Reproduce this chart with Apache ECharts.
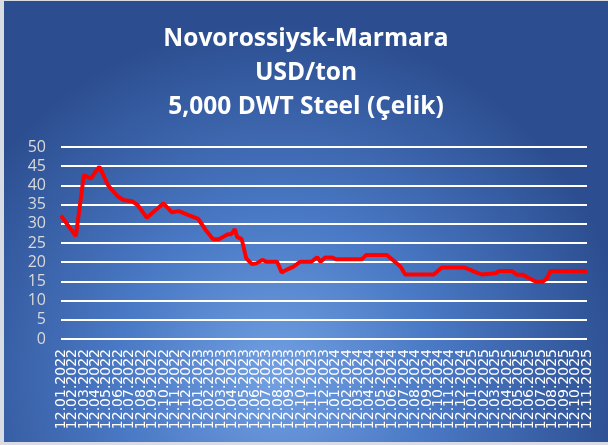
<!DOCTYPE html>
<html>
<head>
<meta charset="utf-8">
<script src="https://cdn.jsdelivr.net/npm/echarts@6/dist/echarts.min.js"></script>
<style>
  html, body { margin: 0; padding: 0; background: #d9dde3; }
  #chart { position: absolute; left: 4px; top: 1px; width: 604px; height: 441px; }
</style>
</head>
<body>
<div id="chart"></div>
<script>
// month labels (x axis ticks)
const monthLabels = [
    '12.01.2022', '12.02.2022', '12.03.2022', '12.04.2022', '12.05.2022', '12.06.2022',
    '12.07.2022', '12.08.2022', '12.09.2022', '12.10.2022', '12.11.2022', '12.12.2022',
    '12.01.2023', '12.02.2023', '12.03.2023', '12.04.2023', '12.05.2023', '12.06.2023',
    '12.07.2023', '12.08.2023', '12.09.2023', '12.10.2023', '12.11.2023', '12.12.2023',
    '12.01.2024', '12.02.2024', '12.03.2024', '12.04.2024', '12.05.2024', '12.06.2024',
    '12.07.2024', '12.08.2024', '12.09.2024', '12.10.2024', '12.11.2024', '12.12.2024',
    '12.01.2025', '12.02.2025', '12.03.2025', '12.04.2025', '12.05.2025', '12.06.2025',
    '12.07.2025', '12.08.2025', '12.09.2025', '12.10.2025', '12.11.2025'
];

// position of each observation, in months since 12.01.2022
const monthPos = [
    0, 1.3, 2.0, 2.6, 3.35, 4.1, 4.9, 5.45, 6.2, 6.7, 7.5, 8.95, 9.7, 10.3, 11.1, 12.0,
    12.6, 13.3, 13.8, 14.6, 14.9, 15.2, 15.4, 15.8, 16.2, 16.7, 17.1, 17.6, 18.0, 18.9,
    19.3, 19.7, 20.3, 20.9, 21.9, 22.4, 22.7, 23.1, 23.7, 24.1, 26.3, 26.7, 28.5, 29.2,
    29.7, 30.1, 32.6, 33.3, 35.3, 35.8, 36.2, 36.8, 38.0, 38.3, 39.4, 39.9, 40.4, 41.2,
    41.6, 42.1, 42.5, 42.8, 46
];

// freight rate, USD/ton
const price = [
    32.1, 26.8, 42.7, 41.8, 44.9, 40.1, 37.3, 36.2, 35.9, 34.9, 31.6, 35.3, 33.0, 33.3, 32.3, 31.3,
    28.6, 26.0, 26.0, 27.3, 27.3, 28.6, 26.6, 26.0, 21.0, 19.5, 19.7, 20.6, 20.1, 20.1,
    17.3, 18.0, 18.8, 20.1, 20.1, 21.3, 20.1, 21.2, 21.2, 20.75, 20.75, 21.9, 21.9, 20.1,
    18.8, 16.8, 16.8, 18.6, 18.6, 18.0, 17.5, 16.8, 17.1, 17.7, 17.7, 16.7, 16.7, 15.4,
    14.9, 14.9, 15.8, 17.7, 17.7
];

const yTicks = { min: 0, max: 50, step: 5 };

const chart = echarts.init(document.getElementById('chart'));

const option = {
    backgroundColor: {
        type: 'radial', x: 0.45, y: 0.85, r: 0.8,
        colorStops: [
            { offset: 0, color: '#72a0e2' },
            { offset: 0.45, color: '#4a79c5' },
            { offset: 1, color: '#2c4e90' }
        ]
    },
    title: {
        text: 'Novorossiysk-Marmara\nUSD/ton\n5,000 DWT Steel (Çelik)',
        left: 'center',
        top: 16,
        textStyle: {
            color: '#ffffff',
            fontFamily: 'Open Sans',
            fontWeight: 'bold',
            fontSize: 24.5,
            lineHeight: 34
        }
    },
    grid: { left: 57, right: 21, top: 146, bottom: 103 },
    xAxis: [{
        // label axis: one category per month
        type: 'category',
        data: monthLabels,
        boundaryGap: false,
        axisLine: { show: false },
        axisTick: { show: false },
        splitLine: { show: false },
        axisLabel: {
            interval: 0,
            rotate: 90,
            margin: 10,
            color: '#ffffff',
            fontFamily: 'DejaVu Sans',
            fontSize: 14,
            hideOverlap: false
        }
    }, {
        // hidden value axis carrying the weekly observations
        type: 'value',
        min: 0,
        max: monthLabels.length - 1,
        show: false,
        position: 'bottom'
    }],
    yAxis: {
        type: 'value',
        min: yTicks.min,
        max: yTicks.max,
        interval: yTicks.step,
        axisLine: { show: false },
        axisTick: { show: false },
        splitLine: { lineStyle: { color: '#ffffff', width: 2 } },
        axisLabel: {
            margin: 15,
            color: '#d9d9d9',
            fontFamily: 'Open Sans',
            fontSize: 16
        }
    },
    series: [{
        name: 'Steel',
        type: 'line',
        xAxisIndex: 1,
        symbol: 'none',
        lineStyle: { color: '#ff0000', width: 4 },
        data: monthPos.map((m, i) => [m, price[i]])
    }]
};
chart.setOption(option);
</script>
</body>
</html>
